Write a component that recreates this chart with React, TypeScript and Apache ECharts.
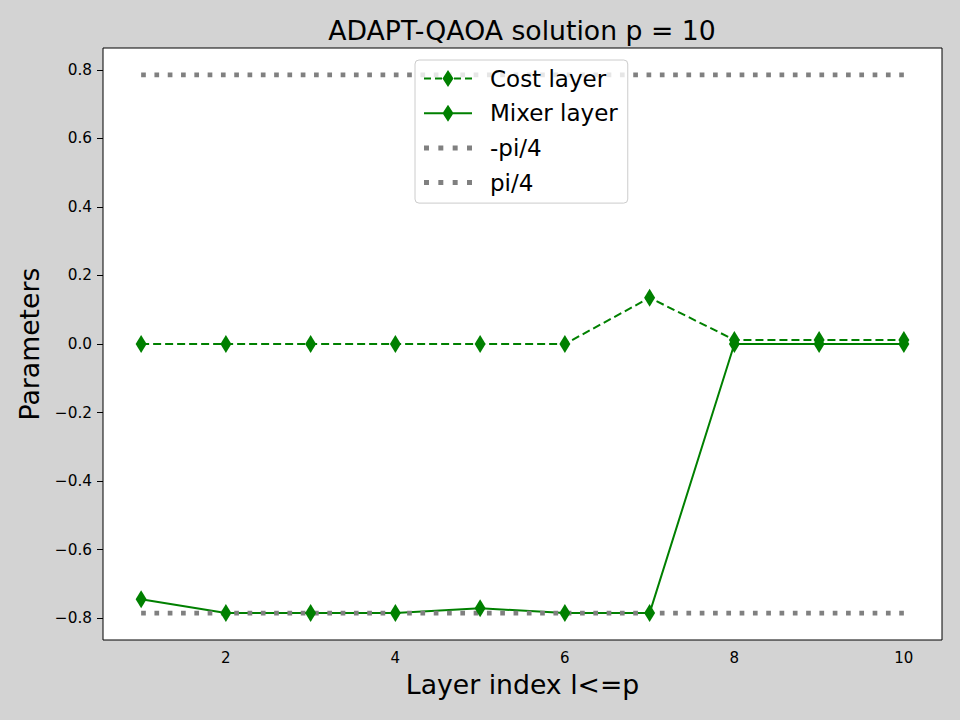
import React, { useEffect, useRef } from 'react';
import * as echarts from 'echarts';

const layers = [1, 2, 3, 4, 5, 6, 7, 8, 9, 10];
const costLayer = [0, 0, 0, 0, 0, 0, 0.135, 0.012, 0.012, 0.012];
const mixerLayer = [-0.745, -0.7854, -0.7854, -0.7854, -0.771, -0.7854, -0.7854, 0, 0, 0];
const refX = [1, 10];
const negPiOver4 = [-0.7854, -0.7854];
const piOver4 = [0.7854, 0.7854];
const xTicks = [2, 4, 6, 8, 10];
const yTicks = [-0.8, -0.6, -0.4, -0.2, 0, 0.2, 0.4, 0.6, 0.8];
const legendNames = ['Cost layer', 'Mixer layer', '-pi/4', 'pi/4'];

const FONT = 'DejaVu Sans';
const GREEN = '#008000';
const GRAY = '#808080';

const dashedIcon =
  'path://M0,7.5h7v2h-7z M11,7.5h7v2h-7z M24,0L29.5,8.5L24,17L18.5,8.5z M30,7.5h7v2h-7z M41,7.5h7v2h-7z';
const solidIcon = 'path://M0,7.5h48v2h-48z M24,0L29.5,8.5L24,17L18.5,8.5z';
const dottedIcon = 'path://M0,0h4.7v4.7h-4.7z M13.5,0h4.7v4.7h-4.7z M27,0h4.7v4.7h-4.7z M40.5,0h4.7v4.7h-4.7z';

export default function App() {
  const ref = useRef<HTMLDivElement>(null);
  useEffect(() => {
    document.body.style.margin = '0';
    const chart = echarts.init(ref.current!, null, { renderer: 'svg' });
    const pairs = (xs: number[], ys: number[]) => xs.map((x, i) => [x, ys[i]]);
    const yFmt = (v: number) => (v < -1e-9 ? '\u2212' : '') + Math.abs(v).toFixed(1);
    chart.setOption({
      animation: false,
      backgroundColor: '#d3d3d3',
      textStyle: { fontFamily: FONT },
      grid: {
        left: 103,
        right: 18,
        top: 48,
        bottom: 80,
        show: true,
        backgroundColor: '#ffffff',
        borderColor: '#000000',
        borderWidth: 1,
      },
      graphic: [
        {
          type: 'text',
          x: 522,
          y: 30,
          style: {
            text: 'ADAPT-QAOA solution p = 10',
            fontSize: 26.7,
            fontFamily: FONT,
            fill: '#000',
            align: 'center',
            verticalAlign: 'middle',
          },
        },
      ],
      xAxis: {
        type: 'value',
        min: 0.55,
        max: 10.45,
        name: 'Layer index l<=p',
        nameLocation: 'middle',
        nameGap: 31,
        nameTextStyle: { fontSize: 26.7, color: '#000', fontFamily: FONT },
        axisLine: { show: false },
        axisTick: { show: true, inside: false, length: 6, customValues: xTicks, lineStyle: { color: '#000' } },
        axisLabel: {
          customValues: xTicks,
          fontSize: 15,
          color: '#000',
          margin: 10,
          fontFamily: FONT,
          formatter: (v: number) => String(Math.round(v)),
        },
        splitLine: { show: false },
      },
      yAxis: {
        type: 'value',
        min: -0.8639,
        max: 0.8639,
        name: 'Parameters',
        nameLocation: 'middle',
        nameGap: 60,
        nameRotate: 90,
        nameTextStyle: { fontSize: 26.7, color: '#000', fontFamily: FONT },
        axisLine: { show: false },
        axisTick: { show: true, inside: false, length: 6, customValues: yTicks, lineStyle: { color: '#000' } },
        axisLabel: {
          customValues: yTicks,
          fontSize: 15.3,
          color: '#000',
          margin: 11,
          fontFamily: FONT,
          formatter: yFmt,
        },
        splitLine: { show: false },
      },
      legend: {
        orient: 'vertical',
        left: 415,
        top: 60,
        padding: [7, 10, 9, 9],
        itemWidth: 48,
        itemHeight: 17,
        itemGap: 11.7,
        backgroundColor: 'rgba(255,255,255,0.8)',
        borderColor: '#cccccc',
        borderWidth: 1,
        borderRadius: 4,
        itemStyle: { borderWidth: 0 },
        textStyle: { fontSize: 23, lineHeight: 23, color: '#000', fontFamily: FONT, padding: [0, 0, 0, 13] },
        data: [
          { name: legendNames[0], icon: dashedIcon },
          { name: legendNames[1], icon: solidIcon },
          { name: legendNames[2], icon: dottedIcon },
          { name: legendNames[3], icon: dottedIcon },
        ],
      },
      series: [
        {
          name: legendNames[0],
          type: 'line',
          data: pairs(layers, costLayer),
          symbol: 'diamond',
          symbolSize: [11, 18],
          itemStyle: { color: GREEN },
          lineStyle: { color: GREEN, width: 2, type: [8, 4] },
        },
        {
          name: legendNames[1],
          type: 'line',
          data: pairs(layers, mixerLayer),
          symbol: 'diamond',
          symbolSize: [11, 18],
          itemStyle: { color: GREEN },
          lineStyle: { color: GREEN, width: 2, type: 'solid' },
        },
        {
          name: legendNames[2],
          type: 'line',
          data: pairs(refX, negPiOver4),
          symbol: 'none',
          itemStyle: { color: GRAY },
          lineStyle: { color: GRAY, width: 4.7, type: [4.7, 8.6], cap: 'butt' },
        },
        {
          name: legendNames[3],
          type: 'line',
          data: pairs(refX, piOver4),
          symbol: 'none',
          itemStyle: { color: GRAY },
          lineStyle: { color: GRAY, width: 4.7, type: [4.7, 8.6], cap: 'butt' },
        },
      ],
    });
    return () => chart.dispose();
  }, []);
  return <div ref={ref} style={{ width: 960, height: 720, background: '#d3d3d3' }} />;
}
